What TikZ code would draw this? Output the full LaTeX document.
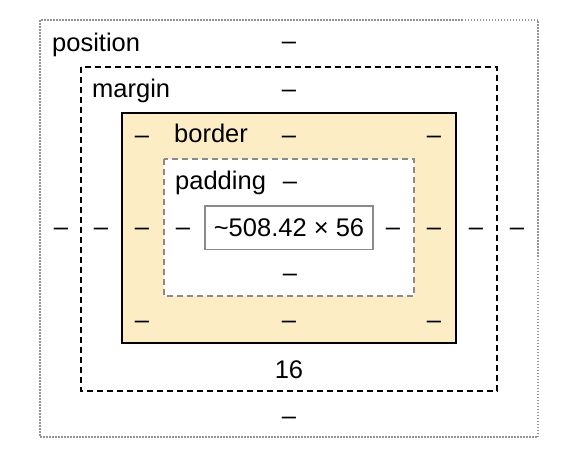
\documentclass[tikz,border=0pt]{standalone}
\usepackage{fontspec}
\setmainfont{Liberation Sans}
\definecolor{borderfill}{HTML}{FCEDC5}
\definecolor{boxgray}{HTML}{8A8A8A}
\definecolor{dotgray}{HTML}{959595}
\tikzset{
  lbl/.style={anchor=base west, inner sep=0pt, font=\fontsize{25.5}{30}\selectfont},
  val/.style={anchor=base, inner sep=0pt, font=\fontsize{25.5}{30}\selectfont},
}
\begin{document}
\begin{tikzpicture}[x=1pt, y=-1pt]
    \useasboundingbox (0,0) rectangle (576,458);

    % Draw nested boxes
    \draw[dotgray, line width=2pt, dash pattern=on 1.5pt off 1.5pt] (40,20) rectangle (538,437);
    \draw[black, line width=2pt, dash pattern=on 6pt off 4pt] (81,67) rectangle (497,391);
    \fill[borderfill] (122,113) rectangle (456,343);
    \draw[black, line width=2pt] (122,113) rectangle (456,343);
    \fill[white] (164,159) rectangle (414,296);
    \draw[boxgray, line width=2pt, dash pattern=on 6pt off 4pt] (164,159) rectangle (414,296);

    % Content size
    \node[draw=boxgray, line width=1.5pt, minimum width=168pt, minimum height=43.5pt,
          inner sep=0pt, font=\fontsize{25.5}{30}\selectfont] (content) at (289,227.75)
          {\textasciitilde508.42 × 56};

    % Label the boxes
    \node[lbl] (pos-label) at (52,51) {position};
    \node[lbl] (mar-label) at (92,97) {margin};
    \node[lbl] (bor-label) at (174,142) {border};
    \node[lbl] (pad-label) at (175,189) {padding};

    % Top values
    \node[val] (pos-top) at (289,49) {\textendash};
    \node[val] (mar-top) at (289,97) {\textendash};
    \node[val] (bor-tl) at (142,143) {\textendash};
    \node[val] (bor-top) at (289,143) {\textendash};
    \node[val] (bor-tr) at (434,143) {\textendash};
    \node[val] (pad-top) at (290,189) {\textendash};

    % Left and right values
    \node[val] (pos-left) at (61,235.5) {\textendash};
    \node[val] (mar-left) at (101,235.5) {\textendash};
    \node[val] (bor-left) at (142,235.5) {\textendash};
    \node[val] (pad-left) at (183,235.5) {\textendash};
    \node[val] (pad-right) at (393,235.5) {\textendash};
    \node[val] (bor-right) at (434,235.5) {\textendash};
    \node[val] (mar-right) at (476,235.5) {\textendash};
    \node[val] (pos-right) at (517,235.5) {\textendash};

    % Bottom values
    \node[val] (pad-bot) at (290,281) {\textendash};
    \node[val] (bor-bl) at (142,328.5) {\textendash};
    \node[val] (bor-bot) at (289,328.5) {\textendash};
    \node[val] (bor-br) at (434,328.5) {\textendash};
    \node[val] (mar-bot) at (289,378) {16};
    \node[val] (pos-bot) at (289,424) {\textendash};
\end{tikzpicture}
\end{document}
